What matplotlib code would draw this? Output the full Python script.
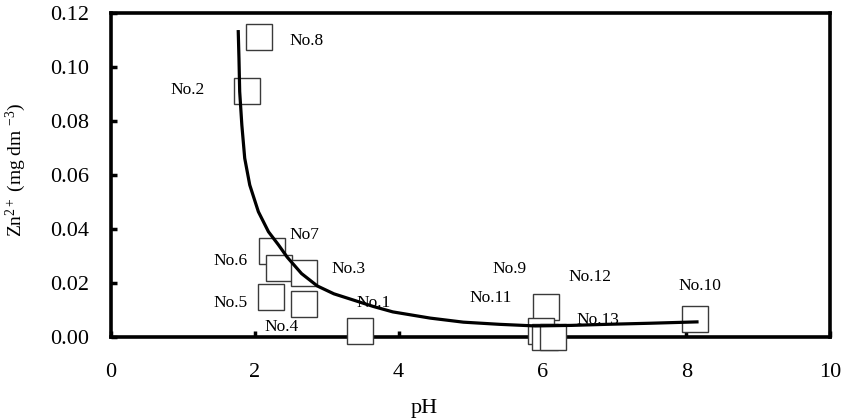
"""
Zn2+ concentration vs pH with fitted trend curve.
"""
import matplotlib
matplotlib.use("Agg")
import matplotlib.pyplot as plt

plt.rcParams["font.family"] = ["Liberation Serif", "DejaVu Serif"]
plt.rcParams["mathtext.fontset"] = "custom"
plt.rcParams["mathtext.rm"] = "Liberation Serif"
plt.rcParams["mathtext.it"] = "Liberation Serif:italic"

# -----------------------------------------------------------------------------
# Data
# -----------------------------------------------------------------------------
sample_ph = [2.06, 1.89, 2.24, 2.34, 2.68, 2.23, 2.68, 3.47,
             6.05, 5.98, 6.03, 6.15, 8.12]
sample_zn = [0.111, 0.091, 0.032, 0.0256, 0.0237, 0.0148, 0.0122, 0.0022,
             0.011, 0.0022, 0.0, 0.0, 0.0066]

# trend curve
curve_ph = [1.77, 1.78, 1.79, 1.82, 1.86, 1.93, 2.05, 2.19, 2.33, 2.45, 2.65,
            2.87, 3.10, 3.37, 3.65, 3.92, 4.44, 4.90, 5.40, 5.90, 6.40, 6.90,
            7.50, 8.15]
curve_zn = [0.1131, 0.1032, 0.0909, 0.0785, 0.0662, 0.0563, 0.0464, 0.0390,
            0.0341, 0.0296, 0.0235, 0.0189, 0.0160, 0.0137, 0.0113, 0.0093,
            0.0070, 0.0055, 0.0047, 0.0041, 0.0043, 0.0047, 0.0051, 0.0056]

sample_names = ["No.8", "No.2", "No7", "No.6", "No.3", "No.5", "No.4", "No.1",
                "No.9", "No.12", "No.11", "No.13", "No.10"]
# where each name label sits (left edge, vertical centre), data coords
label_pos = [(2.48, 0.1096), (0.83, 0.0915), (2.48, 0.0378), (1.42, 0.0281),
             (3.07, 0.0252), (1.42, 0.0126), (2.13, 0.0037), (3.42, 0.0126),
             (5.30, 0.0252), (6.36, 0.0222), (4.99, 0.0144), (6.47, 0.0063),
             (7.89, 0.0189)]

x_ticks = [0, 2, 4, 6, 8, 10]
y_ticks = [0.00, 0.02, 0.04, 0.06, 0.08, 0.10, 0.12]

# -----------------------------------------------------------------------------
# Plot
# -----------------------------------------------------------------------------
fig = plt.figure(figsize=(8.44, 4.20), dpi=100)
ax = fig.add_axes([0.1315, 0.1976, 0.8519, 0.7714])

ax.plot(sample_ph, sample_zn, linestyle="none", marker="s", markersize=18.5,
        markerfacecolor="white", markeredgecolor="#3a3a3a", markeredgewidth=1.0,
        clip_on=False, zorder=3)
ax.plot(curve_ph, curve_zn, color="black", linewidth=2.3, zorder=4)

for name, (lx, ly) in zip(sample_names, label_pos):
    ax.text(lx, ly, name, fontsize=12.5, ha="left", va="center", zorder=2)

ax.set_xlim(0, 10)
ax.set_ylim(0, 0.12)
ax.set_xticks(x_ticks)
ax.set_yticks(y_ticks)
ax.set_xticklabels([str(t) for t in x_ticks])
ax.set_yticklabels([f"{t:.2f}" for t in y_ticks])
ax.tick_params(axis="both", direction="in", length=4, width=2.5, labelsize=16)
ax.tick_params(axis="x", pad=19)
ax.tick_params(axis="y", pad=16)

for spine in ax.spines.values():
    spine.set_linewidth(2.6)

ax.set_xlabel("pH", fontsize=16)
ax.xaxis.set_label_coords(0.435, -0.19)
ax.set_ylabel(r"Zn$^{2+}$ (mg dm $^{-3}$)", fontsize=14)
ax.yaxis.set_label_coords(-0.115, 0.515)

fig.savefig("out.png", dpi=100)
